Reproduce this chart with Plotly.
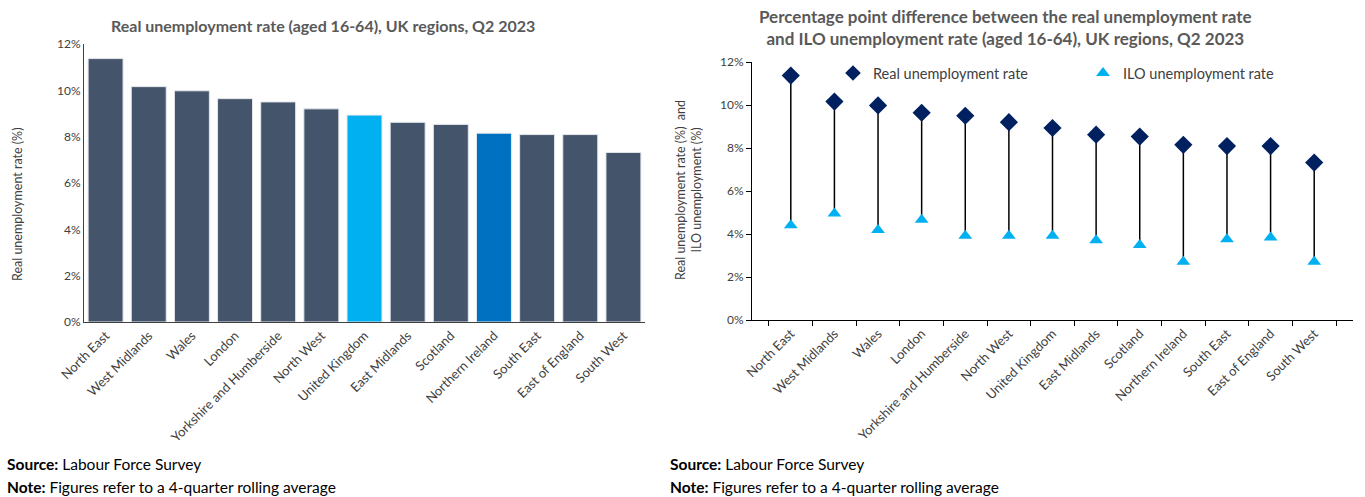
import plotly.graph_objects as go

# Regions, ordered by real unemployment rate
regions = ["North East", "West Midlands", "Wales", "London", "Yorkshire and Humberside",
           "North West", "United Kingdom", "East Midlands", "Scotland", "Northern Ireland",
           "South East", "East of England", "South West"]

# Real unemployment rate, aged 16-64 (%)
real_rate = [11.37, 10.16, 9.98, 9.64, 9.50, 9.20, 8.93, 8.62, 8.53, 8.15, 8.09, 8.09, 7.32]

# ILO unemployment rate, aged 16-64 (%)
ilo_rate = [4.41, 4.95, 4.19, 4.66, 3.92, 3.92, 3.92, 3.71, 3.49, 2.71, 3.76, 3.84, 2.71]

y_ticks = [0, 2, 4, 6, 8, 10, 12]
y_tick_text = ["0%", "2%", "4%", "6%", "8%", "10%", "12%"]

W, H = 1365, 497
BAR = "#44546A"
UK = "#00B0F0"
NI = "#0070C0"
NAVY = "#002060"
CYAN = "#00B0F0"
SANS = "Lato, Carlito, Calibri, sans-serif"


def px_x(x):
    return x / W


def px_y(y):
    return 1 - y / H


bar_colors = [UK if r == "United Kingdom" else NI if r == "Northern Ireland" else BAR
              for r in regions]

fig = go.Figure()

# Left panel: bar chart of the real rate
fig.add_trace(go.Bar(
    x=regions, y=real_rate, marker=dict(color=bar_colors, line=dict(color="#E4E7EC", width=1)),
    xaxis="x", yaxis="y", showlegend=False, hoverinfo="x+y",
))

# Right panel: stems linking the ILO rate to the real rate
stem_x, stem_y = [], []
for r, a, b in zip(regions, ilo_rate, real_rate):
    stem_x += [r, r, None]
    stem_y += [a, b, None]
fig.add_trace(go.Scatter(
    x=stem_x, y=stem_y, mode="lines", line=dict(color="#000000", width=1.5),
    xaxis="x2", yaxis="y2", showlegend=False, hoverinfo="skip",
))
fig.add_trace(go.Scatter(
    x=regions, y=real_rate, mode="markers", name="Real unemployment rate",
    marker=dict(symbol="diamond", size=14, color=NAVY),
    xaxis="x2", yaxis="y2",
))
fig.add_trace(go.Scatter(
    x=regions, y=ilo_rate, mode="markers", name="ILO unemployment rate",
    marker=dict(symbol="triangle-up", size=12, color=CYAN),
    xaxis="x2", yaxis="y2",
))

axis_common = dict(showgrid=False, zeroline=False, showline=True, linewidth=1, automargin=False)

fig.update_layout(
    width=W, height=H,
    margin=dict(l=0, r=0, t=0, b=0, autoexpand=False),
    paper_bgcolor="white", plot_bgcolor="white",
    bargap=0.19,
    xaxis=dict(domain=[px_x(84), px_x(645)], anchor="y", linecolor="#404040",
               tickangle=-45, ticks="", tickfont=dict(family=SANS, size=13, color="#404040"),
               **axis_common),
    yaxis=dict(domain=[px_y(322), px_y(44)], anchor="x", range=[0, 12], linecolor="#404040",
               tickvals=y_ticks, ticktext=y_tick_text, ticks="", ticklen=0,
               tickfont=dict(family=SANS, size=12, color="#404040"), **axis_common),
    xaxis2=dict(domain=[px_x(752), px_x(1353)], anchor="y2", linecolor="#000000",
                tickangle=-45, ticks="outside", ticklen=5, tickcolor="#000000",
                tickson="boundaries",
                tickfont=dict(family=SANS, size=13, color="#404040"), **axis_common),
    yaxis2=dict(domain=[px_y(320), px_y(62)], anchor="x2", range=[0, 12], linecolor="#000000",
                tickvals=y_ticks, ticktext=y_tick_text, ticks="outside", ticklen=5,
                tickcolor="#000000",
                tickfont=dict(family=SANS, size=12, color="#404040"), **axis_common),
    legend=dict(orientation="h", x=px_x(833), y=px_y(73), yanchor="middle", xanchor="left",
                bgcolor="rgba(0,0,0,0)", font=dict(family=SANS, size=14.5, color="#404040"),
                itemwidth=30, entrywidth=205, itemsizing="constant", tracegroupgap=0),
)

annotations = [
    dict(text="<b>Real unemployment rate (aged 16-64), UK regions, Q2 2023</b>",
         x=px_x(323), y=px_y(25), font=dict(family=SANS, size=16, color="#595959")),
    dict(text="<b>Percentage point difference between the real unemployment rate<br>"
              "and ILO unemployment rate (aged 16-64), UK regions, Q2 2023</b>",
         x=px_x(1005), y=px_y(27), font=dict(family=SANS, size=17, color="#595959")),
    dict(text="Real unemployment rate (%)", x=px_x(18), y=px_y(205), textangle=-90,
         font=dict(family=SANS, size=12.5, color="#404040")),
    dict(text="Real unemployment rate (%)  and<br>ILO unemployment (%)", x=px_x(688), y=px_y(190),
         textangle=-90, font=dict(family=SANS, size=12.5, color="#404040")),
]
for x0 in (5, 668):
    annotations.append(dict(text="<b>Source:</b> Labour Force Survey", x=px_x(x0), y=px_y(464),
                            xanchor="left", font=dict(family=SANS, size=15.5, color="#000000")))
    annotations.append(dict(text="<b>Note:</b> Figures refer to a 4-quarter rolling average",
                            x=px_x(x0), y=px_y(487), xanchor="left",
                            font=dict(family=SANS, size=15.5, color="#000000")))
for a in annotations:
    a.setdefault("xanchor", "center")
    a.update(xref="paper", yref="paper", showarrow=False, yanchor="middle")
fig.update_layout(annotations=annotations)

fig.write_html("out.html")
